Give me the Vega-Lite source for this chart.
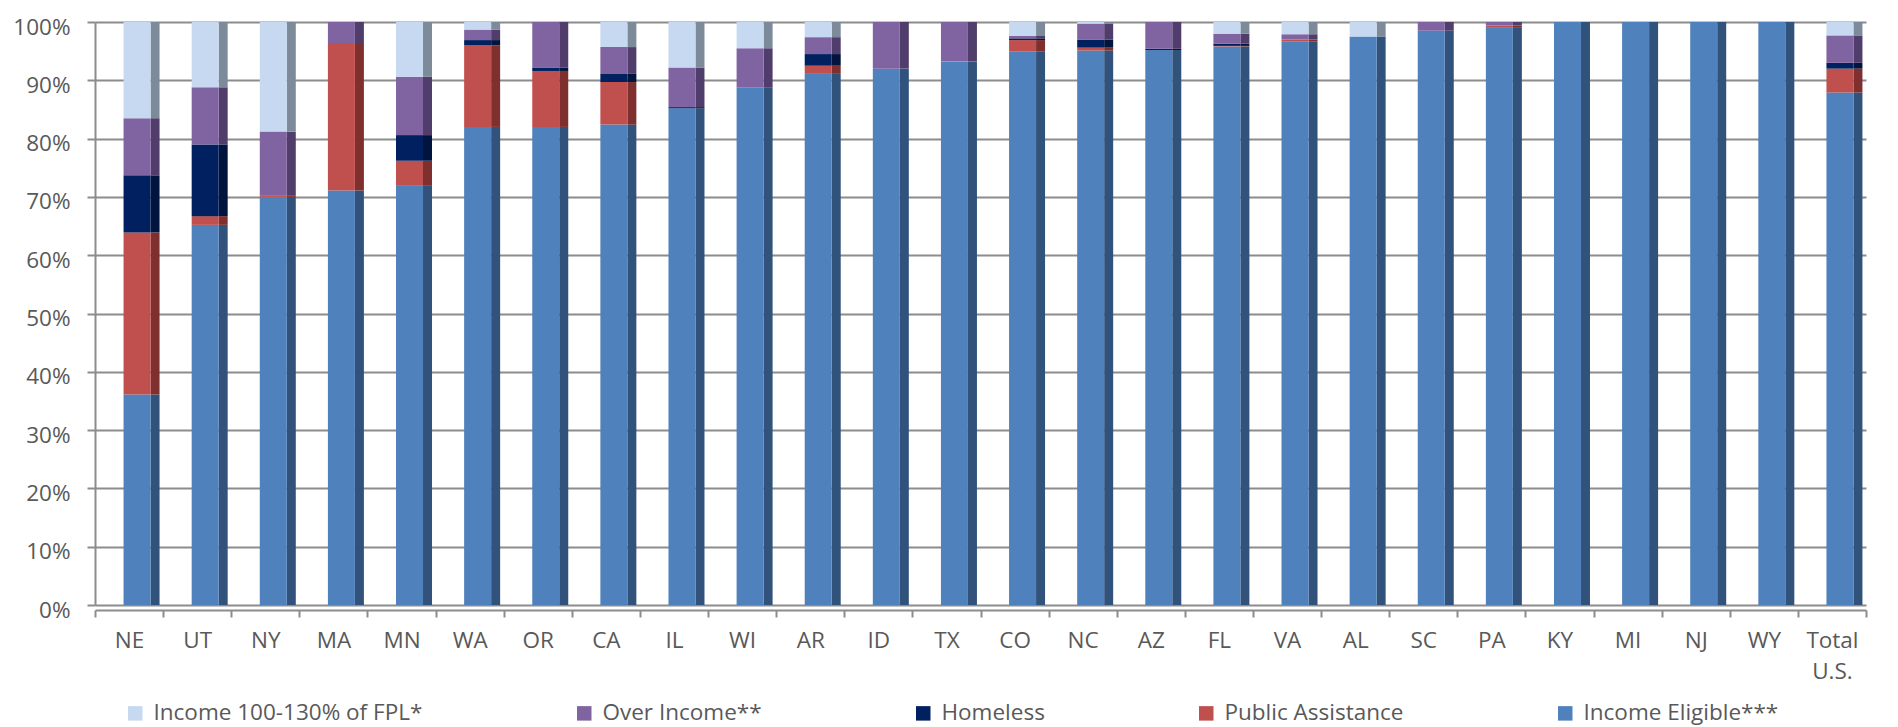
{
  "$schema": "https://vega.github.io/schema/vega-lite/v6.json",
  "width": 1771,
  "height": 583,
  "autosize": "none",
  "padding": {"left": 95, "top": 22, "right": 32, "bottom": 122},
  "background": "white",
  "config": {"view": {"stroke": null}, "font": "Open Sans"},
  "data": {
    "values": [
      {"state": "NE", "series": "Income Eligible***", "pct": 36.1},
      {"state": "NE", "series": "Public Assistance", "pct": 27.8},
      {"state": "NE", "series": "Homeless", "pct": 9.8},
      {"state": "NE", "series": "Over Income**", "pct": 9.8},
      {"state": "NE", "series": "Income 100-130% of FPL*", "pct": 16.5},
      {"state": "UT", "series": "Income Eligible***", "pct": 65.2},
      {"state": "UT", "series": "Public Assistance", "pct": 1.5},
      {"state": "UT", "series": "Homeless", "pct": 12.3},
      {"state": "UT", "series": "Over Income**", "pct": 9.8},
      {"state": "UT", "series": "Income 100-130% of FPL*", "pct": 11.2},
      {"state": "NY", "series": "Income Eligible***", "pct": 70.0},
      {"state": "NY", "series": "Public Assistance", "pct": 0.3},
      {"state": "NY", "series": "Over Income**", "pct": 10.9},
      {"state": "NY", "series": "Income 100-130% of FPL*", "pct": 18.8},
      {"state": "MA", "series": "Income Eligible***", "pct": 71.1},
      {"state": "MA", "series": "Public Assistance", "pct": 25.3},
      {"state": "MA", "series": "Over Income**", "pct": 3.6},
      {"state": "MN", "series": "Income Eligible***", "pct": 71.9},
      {"state": "MN", "series": "Public Assistance", "pct": 4.3},
      {"state": "MN", "series": "Homeless", "pct": 4.4},
      {"state": "MN", "series": "Over Income**", "pct": 10.0},
      {"state": "MN", "series": "Income 100-130% of FPL*", "pct": 9.4},
      {"state": "WA", "series": "Income Eligible***", "pct": 82.0},
      {"state": "WA", "series": "Public Assistance", "pct": 14.0},
      {"state": "WA", "series": "Homeless", "pct": 0.9},
      {"state": "WA", "series": "Over Income**", "pct": 1.8},
      {"state": "WA", "series": "Income 100-130% of FPL*", "pct": 1.3},
      {"state": "OR", "series": "Income Eligible***", "pct": 82.0},
      {"state": "OR", "series": "Public Assistance", "pct": 9.6},
      {"state": "OR", "series": "Homeless", "pct": 0.6},
      {"state": "OR", "series": "Over Income**", "pct": 7.8},
      {"state": "CA", "series": "Income Eligible***", "pct": 82.4},
      {"state": "CA", "series": "Public Assistance", "pct": 7.3},
      {"state": "CA", "series": "Homeless", "pct": 1.4},
      {"state": "CA", "series": "Over Income**", "pct": 4.6},
      {"state": "CA", "series": "Income 100-130% of FPL*", "pct": 4.3},
      {"state": "IL", "series": "Income Eligible***", "pct": 85.2},
      {"state": "IL", "series": "Homeless", "pct": 0.2},
      {"state": "IL", "series": "Over Income**", "pct": 6.8},
      {"state": "IL", "series": "Income 100-130% of FPL*", "pct": 7.8},
      {"state": "WI", "series": "Income Eligible***", "pct": 88.8},
      {"state": "WI", "series": "Over Income**", "pct": 6.7},
      {"state": "WI", "series": "Income 100-130% of FPL*", "pct": 4.5},
      {"state": "AR", "series": "Income Eligible***", "pct": 91.1},
      {"state": "AR", "series": "Public Assistance", "pct": 1.4},
      {"state": "AR", "series": "Homeless", "pct": 2.0},
      {"state": "AR", "series": "Over Income**", "pct": 2.9},
      {"state": "AR", "series": "Income 100-130% of FPL*", "pct": 2.6},
      {"state": "ID", "series": "Income Eligible***", "pct": 92.0},
      {"state": "ID", "series": "Over Income**", "pct": 8.0},
      {"state": "TX", "series": "Income Eligible***", "pct": 93.2},
      {"state": "TX", "series": "Public Assistance", "pct": 0.1},
      {"state": "TX", "series": "Over Income**", "pct": 6.7},
      {"state": "CO", "series": "Income Eligible***", "pct": 94.9},
      {"state": "CO", "series": "Public Assistance", "pct": 2.0},
      {"state": "CO", "series": "Homeless", "pct": 0.3},
      {"state": "CO", "series": "Over Income**", "pct": 0.4},
      {"state": "CO", "series": "Income 100-130% of FPL*", "pct": 2.4},
      {"state": "NC", "series": "Income Eligible***", "pct": 95.1},
      {"state": "NC", "series": "Public Assistance", "pct": 0.5},
      {"state": "NC", "series": "Homeless", "pct": 1.4},
      {"state": "NC", "series": "Over Income**", "pct": 2.7},
      {"state": "NC", "series": "Income 100-130% of FPL*", "pct": 0.3},
      {"state": "AZ", "series": "Income Eligible***", "pct": 95.2},
      {"state": "AZ", "series": "Homeless", "pct": 0.2},
      {"state": "AZ", "series": "Over Income**", "pct": 4.6},
      {"state": "FL", "series": "Income Eligible***", "pct": 95.8},
      {"state": "FL", "series": "Public Assistance", "pct": 0.1},
      {"state": "FL", "series": "Homeless", "pct": 0.4},
      {"state": "FL", "series": "Over Income**", "pct": 1.7},
      {"state": "FL", "series": "Income 100-130% of FPL*", "pct": 2.0},
      {"state": "VA", "series": "Income Eligible***", "pct": 96.7},
      {"state": "VA", "series": "Public Assistance", "pct": 0.3},
      {"state": "VA", "series": "Over Income**", "pct": 0.9},
      {"state": "VA", "series": "Income 100-130% of FPL*", "pct": 2.1},
      {"state": "AL", "series": "Income Eligible***", "pct": 97.5},
      {"state": "AL", "series": "Income 100-130% of FPL*", "pct": 2.5},
      {"state": "SC", "series": "Income Eligible***", "pct": 98.5},
      {"state": "SC", "series": "Over Income**", "pct": 1.5},
      {"state": "PA", "series": "Income Eligible***", "pct": 99.0},
      {"state": "PA", "series": "Public Assistance", "pct": 0.4},
      {"state": "PA", "series": "Over Income**", "pct": 0.6},
      {"state": "KY", "series": "Income Eligible***", "pct": 100},
      {"state": "MI", "series": "Income Eligible***", "pct": 100},
      {"state": "NJ", "series": "Income Eligible***", "pct": 100},
      {"state": "WY", "series": "Income Eligible***", "pct": 100},
      {"state": "Total U.S.", "series": "Income Eligible***", "pct": 87.9},
      {"state": "Total U.S.", "series": "Public Assistance", "pct": 4.1},
      {"state": "Total U.S.", "series": "Homeless", "pct": 1.0},
      {"state": "Total U.S.", "series": "Over Income**", "pct": 4.7},
      {"state": "Total U.S.", "series": "Income 100-130% of FPL*", "pct": 2.3}
    ]
  },
  "transform": [
    {"calculate": "indexof(['Income Eligible***', 'Public Assistance', 'Homeless', 'Over Income**', 'Income 100-130% of FPL*'], datum.series)", "as": "stackRank"}
  ],
  "encoding": {
    "x": {
      "field": "state",
      "type": "nominal",
      "sort": ["NE","UT","NY","MA","MN","WA","OR","CA","IL","WI","AR","ID","TX","CO","NC","AZ","FL","VA","AL","SC","PA","KY","MI","NJ","WY","Total U.S."],
      "scale": {"paddingInner": 0, "paddingOuter": 0},
      "axis": {
        "title": null,
        "labelAngle": 0,
        "offset": 5,
        "domainColor": "#8c8c8c",
        "domainWidth": 2,
        "tickColor": "#8c8c8c",
        "tickWidth": 2,
        "tickSize": 7,
        "tickBand": "extent",
        "grid": false,
        "labelFont": "Open Sans",
        "labelFontSize": 22.5,
        "labelColor": "#595959",
        "labelPadding": 12,
        "labelLineHeight": 31,
        "labelExpr": "datum.label == 'Total U.S.' ? ['Total', 'U.S.'] : datum.label"
      }
    },
    "y": {
      "field": "pct",
      "type": "quantitative",
      "stack": "normalize",
      "scale": {"domain": [0, 1], "nice": false},
      "axis": {
        "title": null,
        "values": [0, 0.1, 0.2, 0.3, 0.4, 0.5, 0.6, 0.7, 0.8, 0.9, 1],
        "format": ".0%",
        "domainColor": "#8c8c8c",
        "domainWidth": 2,
        "tickColor": "#8c8c8c",
        "tickWidth": 2,
        "tickSize": 8,
        "gridColor": "#8c8c8c",
        "gridWidth": 2,
        "labelFont": "Open Sans",
        "labelFontSize": 22.5,
        "labelColor": "#595959",
        "labelPadding": 17,
        "labelOffset": 5
      }
    },
    "order": {"field": "stackRank", "type": "quantitative", "sort": "ascending"}
  },
  "layer": [
    {
      "mark": {"type": "bar", "size": 9, "xOffset": 26},
      "encoding": {
        "color": {
          "field": "series",
          "type": "nominal",
          "scale": {
            "domain": ["Income Eligible***", "Public Assistance", "Homeless", "Over Income**", "Income 100-130% of FPL*"],
            "range": ["#31527A", "#7F302E", "#00143E", "#513D6B", "#7C8A9A"]
          },
          "legend": null
        }
      }
    },
    {
      "mark": {"type": "bar", "size": 27, "xOffset": 8},
      "encoding": {
        "color": {
          "field": "series",
          "type": "nominal",
          "scale": {
            "domain": ["Income 100-130% of FPL*", "Over Income**", "Homeless", "Public Assistance", "Income Eligible***"],
            "range": ["#C6D9F1", "#8064A2", "#002060", "#C0504D", "#4F81BD"]
          },
          "legend": {
            "title": null,
            "orient": "none",
            "legendX": 29,
            "legendY": 680,
            "direction": "horizontal",
            "columns": 5,
            "columnPadding": 150,
            "symbolType": "square",
            "symbolSize": 210,
            "symbolStrokeWidth": 0,
            "labelFont": "Open Sans",
            "labelFontSize": 22.5,
            "labelColor": "#595959",
            "labelOffset": 7,
            "labelLimit": 500
          }
        }
      }
    }
  ],
  "resolve": {"scale": {"color": "independent"}}
}
